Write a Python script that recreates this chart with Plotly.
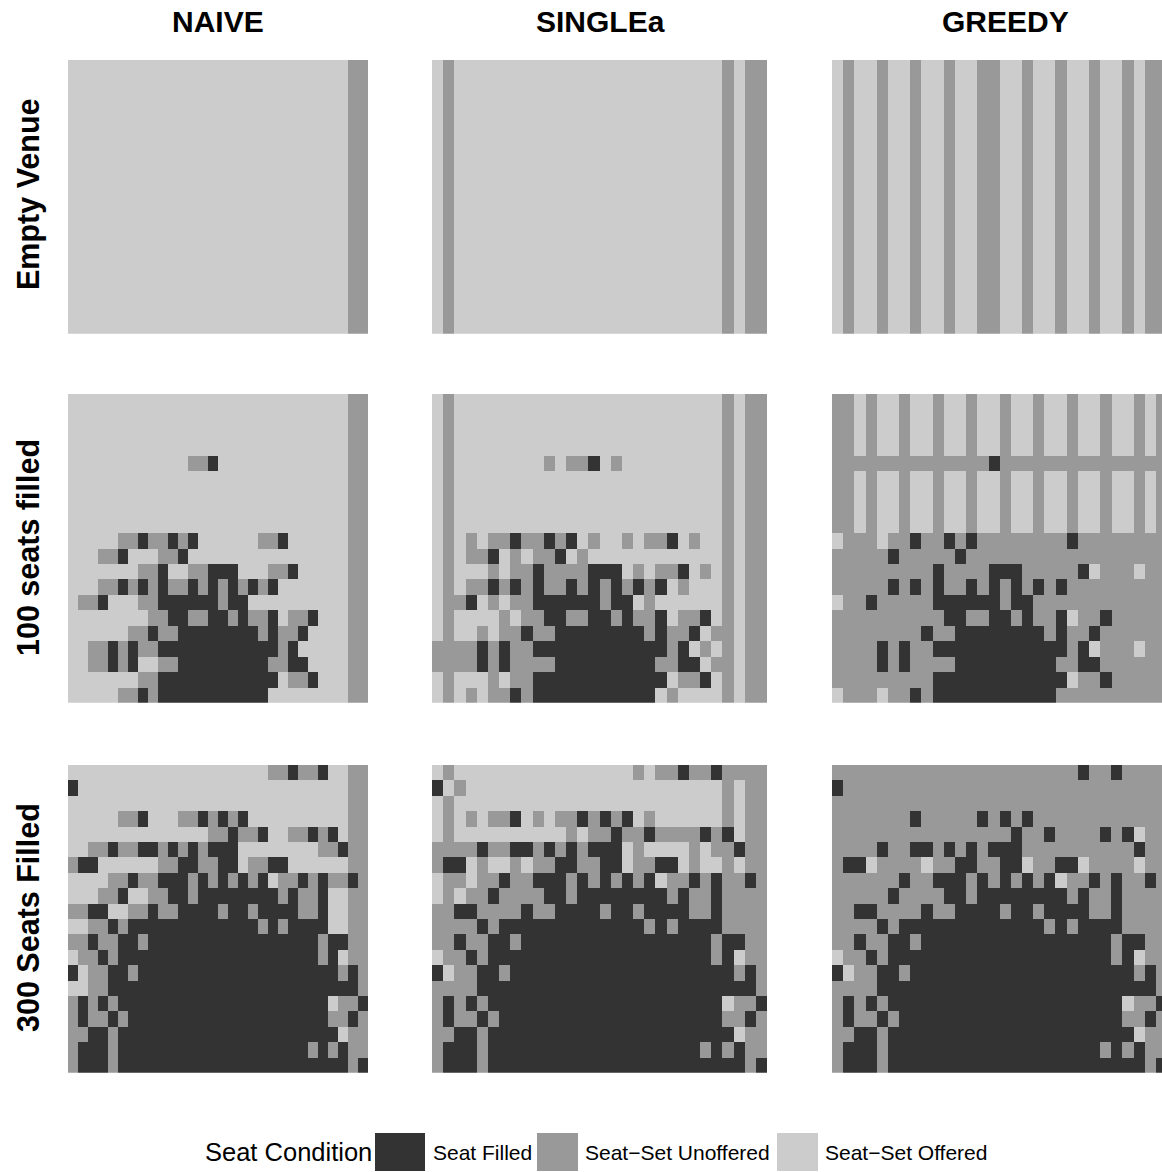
import re
import plotly.graph_objects as go

W, H = 1162, 1172

methods = ["NAIVE", "SINGLEa", "GREEDY"]
scenarios = ["Empty Venue", "100 seats filled", "300 Seats Filled"]
conditions = ["Seat Filled", "Seat\u2212Set Unoffered", "Seat\u2212Set Offered"]
condition_codes = {"F": 0, "U": 1, "O": 2}
condition_colors = ["#333333", "#999999", "#cccccc"]

# Seat maps, run-length encoded row by row (top row first, 30 seats per row).
# F = Seat Filled, U = Seat-Set Unoffered, O = Seat-Set Offered
naive_empty = ["28O 2U"] * 20
singlea_empty = ["O U 24O U O 2U"] * 20
greedy_empty = ["O U 2O U 2O U 2O U 2O 2U 2O U 2O U 2O U 2O U O 2U"] * 20

naive_100 = [
    "28O 2U", "28O 2U", "28O 2U", "28O 2U",
    "12O 2U F 13O 2U",
    "28O 2U", "28O 2U", "28O 2U", "28O 2U",
    "5O 2U F 2U F U F 6O 2U F 6O 2U",
    "3O 2U F 3O 2U F 16O 2U",
    "7O 2U F 2O 2U 3F 3O 2U F 5O 2U",
    "3O 2U F U F U F 2U F U F U F U F U F 7O 2U",
    "O 2U F 3O 2U 6F U 2F 10O 2U",
    "8O 2U 2F 2U 2F U F 2U F O 2U F 3O 2U",
    "6O 2U F 2U 8F U F 2U F 4O 2U",
    "2O 2U F U F 2U 12F U F 5O 2U",
    "2O 2U F U F 2O 2U 9F 2U 2F 4O 2U",
    "7O 2U 12F O 2U F 3O 2U",
    "5O 2U F U 11F 8O 2U",
]

singlea_100 = [
    "O U 24O U O 2U", "O U 24O U O 2U", "O U 24O U O 2U", "O U 24O U O 2U",
    "O U 8O U O 2U F O U 9O U O 2U",
    "O U 24O U O 2U", "O U 24O U O 2U", "O U 24O U O 2U", "O U 24O U O 2U",
    "O U O U O 2U F 2U F U F O U 2O U O 2U F O U 2O U O 2U",
    "O U O 2U F O U O 2U F O U 12O U O 2U",
    "O U 3O U O 2U F 4U 3F O U O 2U F O U O U O 2U",
    "O U O 2U F U F U F 2U F U F U F U F U F O U 3O U O 2U",
    "O 2U F O U O 2U 6F U 2F O U 6O U O 2U",
    "O U 4O U O 2U 2F 2U 2F U F 2U F O 2U F O U O 2U",
    "O U 2O U O 2U F 2U 8F U F 2U F O U U O 2U",
    "4U F U F 2U 12F U F O U O U O 2U",
    "4U F U F 4U 9F 2U 2F O U U O 2U",
    "O U 3O U O 2U 12F O 2U F O U O 2U",
    "O U O U O 2U F U 11F O U 4O U O 2U",
]

greedy_100 = [
    "2U O U 2O U 2O U 2O U 2O U 2O U 2O U 2O U 2O U O 4U",
    "2U O U 2O U 2O U 2O U 2O U 2O U 2O U 2O U 2O U O 4U",
    "2U O U 2O U 2O U 2O U 2O U 2O U 2O U 2O U 2O U O 4U",
    "2U O U 2O U 2O U 2O U 2O U 2O U 2O U 2O U 2O U O 4U",
    "14U F 15U",
    "2U O U 2O U 2O U 2O U 2O U 2O U 2O U 2O U 2O U O 4U",
    "2U O U 2O U 2O U 2O U 2O U 2O U 2O U 2O U 2O U O 4U",
    "2U O U 2O U 2O U 2O U 2O U 2O U 2O U 2O U 2O U O 4U",
    "2U O U 2O U 2O U 2O U 2O U 2O U 2O U 2O U 2O U O 4U",
    "O 3U O 2U F 2U F U F 8U F 8U",
    "5U F 5U F 18U",
    "9U F 4U 3F 5U F O 3U O 2U",
    "5U F U F U F 2U F U F U F U F U F 9U",
    "O 2U F 5U 6F U 2F 12U",
    "10U 2F 2U 2F U F 2U F O 2U F 5U",
    "8U F 2U 8F U F 2U F 6U",
    "4U F U F 2U 12F U F O 3U O 2U",
    "4U F U F 4U 9F 2U 2F 6U",
    "9U 12F O 2U F 5U",
    "O 3U O 2U F U 11F 10U",
]

naive_300 = [
    "20O 2U F 2U F 2O 2U",
    "F 27O 2U",
    "28O 2U",
    "5O 2U F 3O 2U F U F U F 10O 2U",
    "14O 2U F 2U F 2O 2U F U F O 2U",
    "2O 2U F 2U 2F U F U F U 3F 8O 2U F 2U",
    "U 2F 6O 2U 2F 2U 2F O 2U 2F 6O 2U",
    "4O 2U F 2U 3F U F U F U F U F O 2U F U F 2U F U",
    "3O 2U F 2O 2U 2F U 8F U F 2U F 2O 2U",
    "2U 2F 2O 2U F 2U 4F U 2F U 4F 2U F 2O 2U",
    "2O 2U F U 13F U F U 4F 2O 2U",
    "2U F 2U 2F U 17F U 2F 2U",
    "O 2U F U 20F U F O 2U",
    "F O 2U 2F U 20F U F U",
    "2O 2U 25F U",
    "U F U F U 21F O 2U F",
    "U F 2U F U 20F 2U F U",
    "2U 2F U 22F O 2U",
    "U 3F U 19F U F U F 2U",
    "U 3F U 23F U F",
]

singlea_300 = [
    "O U 16O U O 2U F 2U F 4U",
    "F O U 23O U O 2U",
    "O U 24O U O 2U",
    "O U O U O 2U F O U O 2U F U F U F O U 6O U O 2U",
    "O U 10O U O 2U F 2U F 4U F U F O 2U",
    "4U F 2U 2F U F U F U 3F O U 4O U O 2U F 2U",
    "U 2F O U 2O U O 2U 2F 2U 2F O 2U 2F O U 2O U O 2U",
    "O 2U O 2U F 2U 3F U F U F U F U F O 2U F U F 2U F U",
    "O U O 2U F 4U 2F U 8F U F 2U F 4U",
    "2U 2F 4U F 2U 4F U 2F U 4F 2U F 4U",
    "4U F U 13F U F U 4F 4U",
    "2U F 2U 2F U 17F U 2F 2U",
    "O 2U F U 20F U F O 2U",
    "F O 2U 2F U 20F U F U",
    "4U 25F U",
    "U F U F U 21F O 2U F",
    "U F 2U F U 20F 2U F U",
    "2U 2F U 22F O 2U",
    "U 3F U 19F U F U F 2U",
    "U 3F U 23F U F",
]

greedy_300 = [
    "22U F 2U F 4U",
    "F 29U",
    "30U",
    "7U F 5U F U F U F 12U",
    "16U F 2U F 4U F U F O 2U",
    "4U F 2U 2F U F U F U 3F 10U F 2U",
    "U 2F O 4U O 2U 2F 2U 2F O 2U 2F O 4U O 2U",
    "6U F 2U 3F U F U F U F U F O 2U F U F 2U F U",
    "5U F 4U 2F U 8F U F 2U F 4U",
    "2U 2F 4U F 2U 4F U 2F U 4F 2U F 4U",
    "4U F U 13F U F U 4F 4U",
    "2U F 2U 2F U 17F U 2F 2U",
    "O 2U F U 20F U F O 2U",
    "F O 2U 2F U 20F U F U",
    "4U 25F U",
    "U F U F U 21F O 2U F",
    "U F 2U F U 20F 2U F U",
    "2U 2F U 22F O 2U",
    "U 3F U 19F U F U F 2U",
    "U 3F U 23F U F",
]

grids = [
    [naive_empty, singlea_empty, greedy_empty],
    [naive_100, singlea_100, greedy_100],
    [naive_300, singlea_300, greedy_300],
]


def decode(row):
    seats = []
    for n, ch in re.findall(r"(\d*)([FUO])", row):
        seats.extend([condition_codes[ch]] * (int(n) if n else 1))
    return seats


n_cols, n_rows = 30, 20
seat_x = list(range(n_cols))
seat_y = list(range(n_rows))

# panel pixel boxes
col_px = [(68, 368), (432, 767), (832, 1167)]
row_px = [(60, 333.7), (394, 702.7), (765, 1072.7)]

colorscale = [[0.0, condition_colors[0]], [0.5, condition_colors[1]], [1.0, condition_colors[2]]]

fig = go.Figure()
layout_axes = {}
k = 0
for ri in range(3):
    for ci in range(3):
        k += 1
        z = [decode(r) for r in grids[ri][ci]]
        xa = "x" if k == 1 else f"x{k}"
        ya = "y" if k == 1 else f"y{k}"
        fig.add_trace(go.Heatmap(
            z=z, x=seat_x, y=seat_y, xaxis=xa, yaxis=ya,
            colorscale=colorscale, zmin=0, zmax=2, showscale=False,
            hoverinfo="skip", xgap=0, ygap=0,
        ))
        x0, x1 = col_px[ci]
        y0, y1 = row_px[ri]
        xr_end = n_cols - 0.5
        if x1 > W:
            xr_end = -0.5 + n_cols * (W - x0) / (x1 - x0)
            x1 = W
        xname = "xaxis" if k == 1 else f"xaxis{k}"
        yname = "yaxis" if k == 1 else f"yaxis{k}"
        layout_axes[xname] = dict(domain=[x0 / W, x1 / W], range=[-0.5, xr_end],
                                  visible=False, anchor=ya, fixedrange=True)
        layout_axes[yname] = dict(domain=[1 - y1 / H, 1 - y0 / H], range=[n_rows - 0.5, -0.5],
                                  visible=False, anchor=xa, fixedrange=True)

fig.update_layout(**layout_axes)

font_family = "Liberation Sans, Arial, Helvetica, sans-serif"
annotations = []
title_x = [218, 600, 1005]
for name, cx in zip(methods, title_x):
    annotations.append(dict(text=name, x=cx / W, y=1 - 22 / H, xref="paper", yref="paper",
                            showarrow=False, xanchor="center", yanchor="middle",
                            font=dict(family=font_family, size=30, color="black", weight="bold")))
row_y = [194, 548, 918]
for name, cy in zip(scenarios, row_y):
    annotations.append(dict(text=name, x=28 / W, y=1 - cy / H, xref="paper", yref="paper",
                            showarrow=False, xanchor="center", yanchor="middle", textangle=-90,
                            font=dict(family=font_family, size=30.5, color="black", weight="bold")))

# legend
legend_y = 1152
annotations.append(dict(text="Seat Condition", x=203 / W, y=1 - legend_y / H, xref="paper", yref="paper",
                        showarrow=False, xanchor="left", yanchor="middle",
                        font=dict(family=font_family, size=25.5, color="black")))
key_px = [(375, 425), (537, 578), (777, 818)]
label_px = [431, 583, 823]
shapes = []
for (kx0, kx1), lx, lab, col in zip(key_px, label_px, conditions, condition_colors):
    shapes.append(dict(type="rect", xref="paper", yref="paper",
                       x0=kx0 / W, x1=kx1 / W, y0=1 - 1171 / H, y1=1 - 1133 / H,
                       fillcolor=col, line=dict(width=0)))
    annotations.append(dict(text=lab, x=lx / W, y=1 - legend_y / H, xref="paper", yref="paper",
                            showarrow=False, xanchor="left", yanchor="middle",
                            font=dict(family=font_family, size=21, color="black")))

fig.update_layout(
    width=W, height=H, margin=dict(l=0, r=0, t=0, b=0),
    paper_bgcolor="white", plot_bgcolor="white",
    annotations=annotations, shapes=shapes, showlegend=False,
)

fig.write_html("out.html", config={"displayModeBar": False},
               post_script="document.body.style.margin='0px';document.body.style.overflow='hidden';")
